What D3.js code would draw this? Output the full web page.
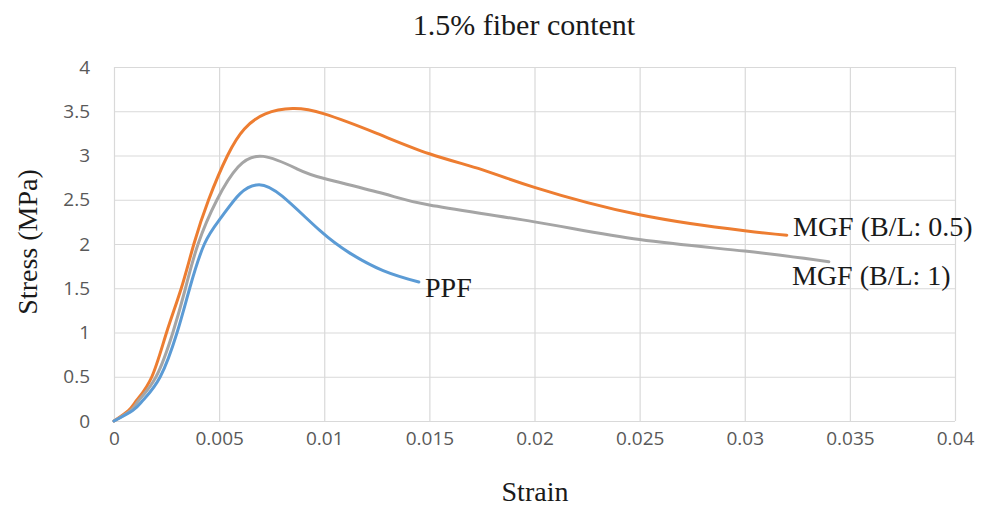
<!DOCTYPE html>
<html>
<head>
<meta charset="utf-8">
<script src="https://cdn.jsdelivr.net/npm/d3@7"></script>
<style>
  body { margin: 0; background: #fff; }
  svg { display: block; }
  .tick text { font-family: "Open Sans", sans-serif; font-size: 19px; fill: #595959; }
  .serif { font-family: "Liberation Serif", "Times New Roman", serif; fill: #1a1a1a; }
</style>
</head>
<body>
<svg id="chart" width="984" height="509"></svg>
<script>
// values (strain, stress MPa)
const mgf05 = [[0,0],[0.0007,0.12],[0.0011,0.24],[0.0018,0.5],[0.0025,1.0],[0.0032,1.5],[0.0038,2.0],
  [0.0045,2.5],[0.0054,3.0],[0.0062,3.3],[0.0072,3.47],[0.0085,3.53],[0.01,3.47],
  [0.0125,3.25],[0.015,3.02],[0.0175,2.84],[0.02,2.64],[0.025,2.33],[0.03,2.15],[0.032,2.1]];
const mgf1 = [[0,0],[0.0008,0.12],[0.0012,0.24],[0.002,0.5],[0.0028,1.0],[0.0034,1.5],[0.004,2.0],
  [0.0049,2.5],[0.0059,2.87],[0.0071,2.99],[0.0087,2.85],[0.01,2.74],[0.0128,2.57],[0.015,2.44],
  [0.02,2.25],[0.025,2.05],[0.03,1.92],[0.034,1.8]];
const ppf = [[0,0],[0.0009,0.12],[0.0014,0.24],[0.0022,0.5],[0.003,1.0],[0.0036,1.5],[0.0043,2.0],
  [0.0051,2.3],[0.006,2.57],[0.0069,2.67],[0.008,2.54],[0.0098,2.15],[0.0112,1.9],
  [0.0128,1.7],[0.0145,1.57]];
const seriesNames = ["MGF (B/L: 0.5)", "MGF (B/L: 1)", "PPF"];
const xTicks = [0,0.005,0.01,0.015,0.02,0.025,0.03,0.035,0.04];
const yTicks = [0,0.5,1,1.5,2,2.5,3,3.5,4];

const svg = d3.select("#chart");
const x = d3.scaleLinear().domain([0, 0.04]).range([114, 955]);
const y = d3.scaleLinear().domain([0, 4]).range([421, 67]);

// grid via axes
const gx = svg.append("g").attr("transform", "translate(0,421)")
  .call(d3.axisBottom(x).tickValues(xTicks).tickSize(-354).tickFormat(d => String(d)).tickPadding(20));
const gy = svg.append("g").attr("transform", "translate(114,0)")
  .call(d3.axisLeft(y).tickValues(yTicks).tickSize(-841).tickFormat(d => String(d)).tickPadding(24));
[gx, gy].forEach(g => {
  g.select(".domain").remove();
  g.selectAll(".tick line").attr("stroke", "#d9d9d9").attr("stroke-width", 1.2);
});
gx.selectAll(".tick text").attr("dy", "0.2em");

const line = d3.line().x(d => x(d[0])).y(d => y(d[1])).curve(d3.curveNatural);
const data = [mgf05, mgf1, ppf];
const colors = ["#ED7D31", "#A5A5A5", "#5B9BD5"];
svg.append("g").selectAll("path").data(data).join("path")
  .attr("d", line).attr("fill", "none")
  .attr("stroke", (d, i) => colors[i]).attr("stroke-width", 3)
  .attr("stroke-linejoin", "round").attr("stroke-linecap", "round");

// series labels
const labelPos = [[793, 236], [792, 285], [425, 297]];
svg.append("g").selectAll("text").data(seriesNames).join("text")
  .attr("class", "serif")
  .attr("x", (d, i) => labelPos[i][0]).attr("y", (d, i) => labelPos[i][1])
  .style("font-size", "28px").text(d => d);

svg.append("text").attr("class", "serif").attr("x", 524).attr("y", 35)
  .attr("text-anchor", "middle").style("font-size", "30px").text("1.5% fiber content");
svg.append("text").attr("class", "serif").attr("x", 535).attr("y", 501)
  .attr("text-anchor", "middle").style("font-size", "28px").text("Strain");
svg.append("text").attr("class", "serif")
  .attr("transform", "translate(37,242) rotate(-90)")
  .attr("text-anchor", "middle").style("font-size", "28px").text("Stress (MPa)");
</script>
</body>
</html>
